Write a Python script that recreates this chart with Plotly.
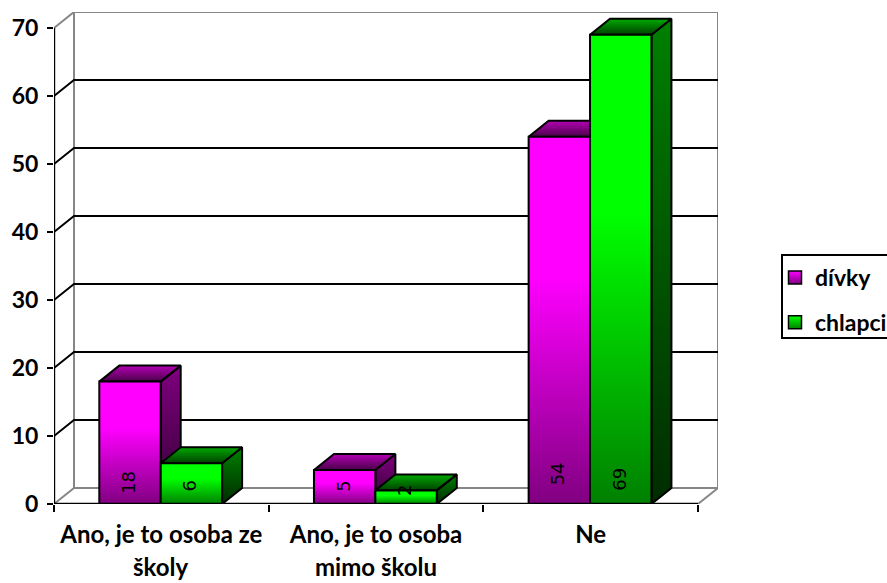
import plotly.graph_objects as go

categories = ["Ano, je to osoba ze", "Ano, je to osoba", "Ne"]
second_lines = ["školy", "mimo školu", ""]
series_names = ["dívky", "chlapci"]
divky = [18, 5, 54]
chlapci = [6, 2, 69]
y_ticks = [0, 10, 20, 30, 40, 50, 60, 70]

# style / projection
PX_CAT = 644 / 3
PX_VAL = 6.8
DX = 20 / PX_CAT
DY = 16 / PX_VAL
GAP = 45.3 / PX_CAT
W = 61.4 / PX_CAT
X0, X1 = -0.5, 2.5
Y_TOP = y_ticks[-1]
GRAY = "#868686"
label_lift = [[21, 18, 30], [18, 13, 25]]

PAL = {
    0: dict(front=[[0, "#800080"], [0.62, "#ff00ff"], [1, "#ff00ff"]],
            top=[[0, "#4a004a"], [1, "#b400b4"]],
            side=[[0, "#300030"], [1, "#800080"]], base="#ff00ff", dark="#800080"),
    1: dict(front=[[0, "#008000"], [0.62, "#00ff00"], [1, "#00ff00"]],
            top=[[0, "#004000"], [1, "#00aa00"]],
            side=[[0, "#002c00"], [1, "#008000"]], base="#00ff00", dark="#008000"),
}

fig = go.Figure()


def line(xs, ys, color="black", width=2):
    fig.add_trace(go.Scatter(x=xs, y=ys, mode="lines", line=dict(color=color, width=width),
                             showlegend=False, hoverinfo="skip", cliponaxis=False))


def poly(xs, ys, scale):
    fig.add_trace(go.Scatter(x=xs + xs[:1], y=ys + ys[:1], mode="lines", fill="toself",
                             fillgradient=dict(type="vertical", colorscale=scale),
                             line=dict(color="black", width=2),
                             showlegend=False, hoverinfo="skip", cliponaxis=False))


# walls and floor
line([X0, X0 + DX, X1 + DX, X1 + DX, X0 + DX, X0 + DX],
     [Y_TOP, Y_TOP + DY, Y_TOP + DY, DY, DY, Y_TOP + DY], GRAY, 2)
line([X0, X0 + DX], [0, DY], GRAY, 2)
line([X1, X1 + DX], [0, DY], GRAY, 2)

# gridlines
for v in y_ticks[1:-1]:
    line([X0, X0 + DX, X1 + DX], [v, v + DY, v + DY])

# bars
for c in range(len(categories)):
    for s, vals in enumerate([divky, chlapci]):
        v = vals[c]
        l = c - 0.5 + GAP + s * W
        r = l + W
        p = PAL[s]
        poly([r, r + DX, r + DX, r], [0, DY, v + DY, v], p["side"])
        poly([l, r, r + DX, l + DX], [v, v, v + DY, v + DY], p["top"])
        poly([l, r, r, l], [0, 0, v, v], p["front"])
        fig.add_annotation(x=(l + r) / 2, y=0, text=str(v), textangle=-90, showarrow=False,
                           xanchor="center", yanchor="middle", yshift=label_lift[s][c],
                           xshift=-2,
                           font=dict(family="DejaVu Sans", size=18, color="black"))

# front axes
line([X0, X0], [0, Y_TOP], "black", 2.4)
line([X0, X1], [0, 0], "black", 2.4)

# legend entries
for s, name in enumerate(series_names):
    fig.add_trace(go.Scatter(x=[None], y=[None], mode="markers", name=name, legendgroup=name,
                             marker=dict(symbol="square", size=13, color=PAL[s]["base"],
                                         gradient=dict(type="vertical", color=PAL[s]["dark"]),
                                         line=dict(color="black", width=1.5))))

# second lines of the category labels
BOLD = dict(family="Lato", size=24, color="black", weight="bold")
for c, t in enumerate(second_lines):
    if t:
        fig.add_annotation(x=c, y=0, yref="y", yshift=-62, text=t, showarrow=False,
                           font=BOLD, xanchor="center", yanchor="middle")

fig.update_layout(
    width=887, height=583, autosize=False,
    margin=dict(l=54, r=169, t=12, b=79, autoexpand=False),
    paper_bgcolor="white", plot_bgcolor="white",
    font=dict(family="Lato", color="black"),
    xaxis=dict(range=[X0, X1 + DX], tickmode="array", tickvals=[0, 1, 2], ticktext=categories,
               showgrid=False, zeroline=False, showline=False, ticks="", ticklen=0,
               tickfont=BOLD, ticklabelstandoff=14,
               minor=dict(tickmode="array", tickvals=[-0.5, 0.5, 1.5, 2.5], ticks="outside",
                          ticklen=7, tickwidth=2, tickcolor="black", showgrid=False)),
    yaxis=dict(range=[0, Y_TOP + DY], tickmode="array", tickvals=y_ticks,
               showgrid=False, zeroline=False, showline=False, ticks="outside", ticklen=6,
               tickwidth=2, tickcolor="black", ticklabelstandoff=4,
               tickfont=dict(family="Lato", size=23, color="black", weight="bold")),
    legend=dict(x=(775 - 54) / 664, y=(504 - 256) / 492, xanchor="left", yanchor="top",
                font=dict(family="Lato", size=23, color="black", weight="bold"), bgcolor="rgba(0,0,0,0)",
                borderwidth=0, tracegroupgap=12, traceorder="grouped"),
    shapes=[dict(type="rect", xref="paper", yref="paper",
                 x0=(782 - 54) / 664, x1=(900 - 54) / 664,
                 y0=(504 - 338) / 492, y1=(504 - 255) / 492,
                 line=dict(color="black", width=2), layer="below")],
)
fig.write_html("out.html", post_script="document.body.style.margin='0';",
               config=dict(displayModeBar=False))
